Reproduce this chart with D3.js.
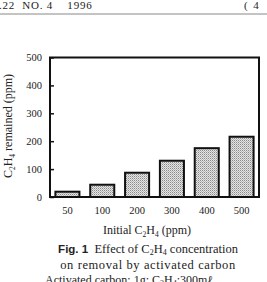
<!DOCTYPE html>
<html>
<head>
<meta charset="utf-8">
<script src="https://cdn.jsdelivr.net/npm/d3@7"></script>
<style>
  body { margin: 0; background: #fff; }
  svg { display: block; }
  text { fill: #222; font-family: "Liberation Serif", "DejaVu Serif", serif; }
</style>
</head>
<body>
<div id="chart"></div>
<script>
// initial C2H4 (ppm) and C2H4 remained (ppm)
var categories = ["50", "100", "200", "300", "400", "500"];
var remained = [19, 44, 87, 130, 175, 216];
var yTicks = [0, 100, 200, 300, 400, 500];

var W = 267, H = 282;
var plotLeft = 50, plotRight = 259, plotTop = 57.5, plotBottom = 197;

var svg = d3.select("#chart").append("svg")
  .attr("width", W)
  .attr("height", H);

// dotted fill like the printed screen tone
var defs = svg.append("defs");
var pat = defs.append("pattern")
  .attr("id", "dots")
  .attr("patternUnits", "userSpaceOnUse")
  .attr("width", 2).attr("height", 2);
pat.append("rect").attr("width", 2).attr("height", 2).attr("fill", "#e4e4e4");
pat.append("rect").attr("width", 1).attr("height", 1).attr("fill", "#8a8a8a");
pat.append("rect").attr("x", 1).attr("y", 1).attr("width", 1).attr("height", 1).attr("fill", "#b8b8b8");

// page header
svg.append("text").attr("x", -1).attr("y", 9)
  .style("font-size", "11px")
  .style("white-space", "pre")
  .style("letter-spacing", "0.8px")
  .text(".22  NO. 4    1996");
svg.append("text").attr("x", 244).attr("y", 9)
  .style("font-size", "11px")
  .style("white-space", "pre")
  .text("(  4");
svg.append("line")
  .attr("x1", 0).attr("x2", W).attr("y1", 14).attr("y2", 14)
  .attr("stroke", "#888").attr("stroke-width", 1);

var x = d3.scaleBand()
  .domain(categories)
  .range([plotLeft, plotRight])
  .paddingInner(0.31)
  .paddingOuter(0.155);

var y = d3.scaleLinear()
  .domain([0, 500])
  .range([plotBottom, plotTop]);

// bars
svg.selectAll("rect.bar")
  .data(remained)
  .enter()
  .append("rect")
    .attr("class", "bar")
    .attr("x", function(d, i) { return x(categories[i]); })
    .attr("y", function(d) { return y(d); })
    .attr("width", x.bandwidth())
    .attr("height", function(d) { return y(0) - y(d); })
    .attr("fill", "url(#dots)")
    .attr("stroke", "#111")
    .attr("stroke-width", 2);

// y axis, ticks pointing inward
var yAxis = svg.append("g")
  .attr("transform", "translate(" + plotLeft + ",0)")
  .call(d3.axisLeft(y).tickValues(yTicks).tickSizeInner(-4).tickSizeOuter(0).tickPadding(8));
yAxis.select(".domain").remove();
yAxis.selectAll("line").attr("stroke", "#111").attr("stroke-width", 1.5);
yAxis.selectAll("text").style("font-size", "10.5px").attr("fill", "#222");

// x axis labels only
var xAxis = svg.append("g")
  .attr("transform", "translate(0," + plotBottom + ")")
  .call(d3.axisBottom(x).tickSize(0).tickPadding(10));
xAxis.select(".domain").remove();
xAxis.selectAll("text").style("font-size", "10.5px").attr("fill", "#222");

// frame
svg.append("rect")
  .attr("x", plotLeft).attr("y", plotTop)
  .attr("width", plotRight - plotLeft).attr("height", plotBottom - plotTop)
  .attr("fill", "none")
  .attr("stroke", "#111")
  .attr("stroke-width", 2);

// axis titles
var yl = svg.append("text")
  .attr("transform", "translate(12,126) rotate(-90)")
  .attr("text-anchor", "middle")
  .style("font-size", "12px");
yl.append("tspan").text("C");
yl.append("tspan").attr("dy", 3).style("font-size", "7.5px").text("2");
yl.append("tspan").attr("dy", -3).text("H");
yl.append("tspan").attr("dy", 3).style("font-size", "7.5px").text("4");
yl.append("tspan").attr("dy", -3).text(" remained (ppm)");

var xl = svg.append("text")
  .attr("x", 147).attr("y", 234)
  .attr("text-anchor", "middle")
  .style("font-size", "12px");
xl.append("tspan").text("Initial C");
xl.append("tspan").attr("dy", 3).style("font-size", "7.5px").text("2");
xl.append("tspan").attr("dy", -3).text("H");
xl.append("tspan").attr("dy", 3).style("font-size", "7.5px").text("4");
xl.append("tspan").attr("dy", -3).text(" (ppm)");

// caption
var c1 = svg.append("text")
  .attr("x", 148).attr("y", 253)
  .attr("text-anchor", "middle")
  .style("font-size", "12.5px");
c1.append("tspan").style("font-family", "'Liberation Sans', Arial, sans-serif")
  .style("font-weight", "bold").style("font-size", "11.5px").text("Fig. 1");
c1.append("tspan").text("\u2002Effect of C");
c1.append("tspan").attr("dy", 2).style("font-size", "8px").text("2");
c1.append("tspan").attr("dy", -2).text("H");
c1.append("tspan").attr("dy", 2).style("font-size", "8px").text("4");
c1.append("tspan").attr("dy", -2).text(" concentration");

svg.append("text")
  .attr("x", 148).attr("y", 269)
  .attr("text-anchor", "middle")
  .style("font-size", "12.5px")
  .style("letter-spacing", "0.6px")
  .text("on removal by activated carbon");

var c3 = svg.append("text")
  .attr("x", 45).attr("y", 284)
  .style("font-size", "12px");
c3.append("tspan").text("Activated carbon; 1g; C");
c3.append("tspan").attr("dy", 2).style("font-size", "8px").text("2");
c3.append("tspan").attr("dy", -2).text("H");
c3.append("tspan").attr("dy", 2).style("font-size", "8px").text("4");
c3.append("tspan").attr("dy", -2).text(":300m\u2113");
</script>
</body>
</html>
